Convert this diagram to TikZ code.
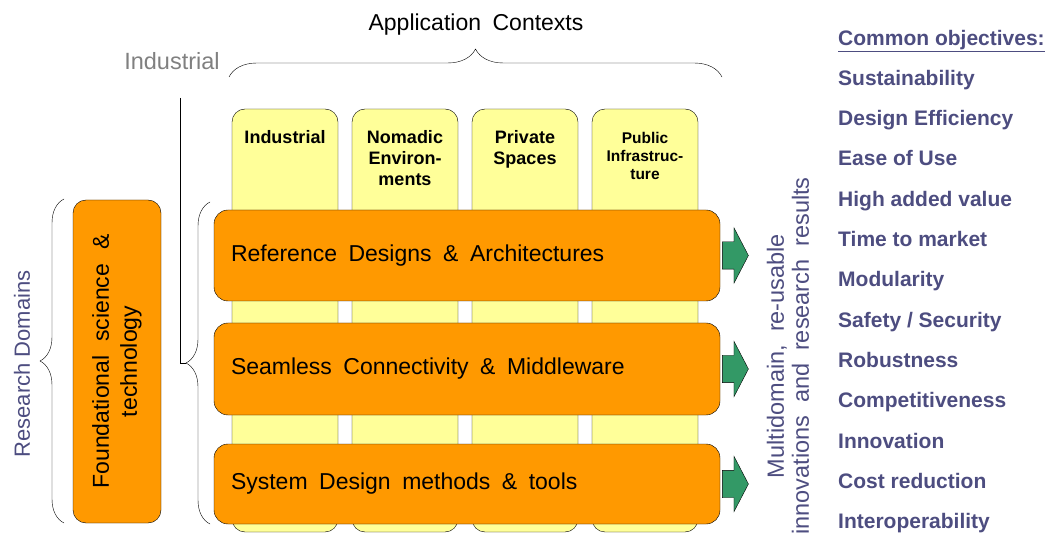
\documentclass[tikz,border=0pt]{standalone}
\usepackage{fontspec}
\setmainfont{Liberation Sans}
\usetikzlibrary{positioning,shapes.arrows,decorations.pathreplacing}
\definecolor{ctxyellow}{RGB}{255,255,153}
\definecolor{domorange}{RGB}{255,153,0}
\definecolor{resgreen}{RGB}{51,153,102}
\definecolor{slate}{RGB}{77,77,128}
\definecolor{greytxt}{RGB}{128,128,128}
\newcommand\widesp[1]{\spaceskip=#1em\relax}
\begin{document}
\begin{tikzpicture}[x=1pt,y=-1pt,
    ctxbox/.style={rectangle,rounded corners=13pt,draw,fill=ctxyellow,minimum width=106pt,minimum height=423pt,inner sep=0pt},
    ctxlabel/.style={align=center,inner sep=0pt,anchor=north,font=\fontsize{18}{21}\selectfont\bfseries},
    rdbox/.style={rectangle,rounded corners=14pt,draw,fill=domorange,text width=472pt,inner xsep=17pt,align=left,font=\fontsize{23}{27}\selectfont,execute at begin node={\widesp{0.5}}},
    resarrow/.style={single arrow,draw,fill=resgreen,minimum height=26pt,inner xsep=0pt,inner ysep=13.5pt,single arrow head extend=14pt,single arrow tip angle=125},
    objective/.style={anchor=base west,inner sep=0pt,text=slate,font=\fontsize{21}{24}\selectfont\bfseries},
    bracket/.style={decorate,decoration={brace,amplitude=#1}}]
    \useasboundingbox (0,0) rectangle (1052,534);

    % application contexts
    \node(ind)[ctxbox] at (285,320.5){};
    \node(nom)[ctxbox] at (405,320.5){};
    \node(priv)[ctxbox] at (525,320.5){};
    \node(pub)[ctxbox] at (645,320.5){};
    \node(indt)[ctxlabel,below=21pt of ind.north]{Industrial};
    \node(nomt)[ctxlabel,below=21pt of nom.north]{Nomadic\\Environ-\\ments};
    \node(privt)[ctxlabel,below=21pt of priv.north]{Private\\Spaces};
    \node(pubt)[ctxlabel,below=23pt of pub.north,font=\fontsize{15.5}{18}\selectfont\bfseries]{Public\\Infrastruc-\\ture};

    \node(actx)[font=\fontsize{23}{27}\selectfont,execute at begin node={\widesp{0.5}}] at (476,25){Application Contexts};
    \node(indg)[text=greytxt,font=\fontsize{23.5}{27}\selectfont] at (172,61){Industrial};
    \coordinate(bl) at (229,77);
    \coordinate(br) at (722,77);
    \draw[bracket=28pt] (bl) -- (br);

    % research domains
    \node(ref)[rdbox,minimum height=91pt] at (467,255.5){Reference Designs \& Architectures};
    \node(sea)[rdbox,minimum height=92pt] at (467,369){Seamless Connectivity \& Middleware};
    \node(sys)[rdbox,minimum height=80pt] at (467,484){System Design methods \& tools};
    \node(refout)[resarrow,right=2pt of ref]{};
    \node(seaout)[resarrow,right=2pt of sea]{};
    \node(sysout)[resarrow,right=2pt of sys]{};

    \node(fst)[rectangle,rounded corners=13pt,draw,fill=domorange,rotate=90,minimum width=323pt,minimum height=88pt,align=center,font=\fontsize{23}{28}\selectfont,execute at begin node={\widesp{0.6}}] at (117,361.5){Foundational science \&\\technology};
    \node(rd)[rotate=90,text=slate,font=\fontsize{22}{26}\selectfont] at (22,364){Research Domains};

    \coordinate(rdb) at (64,523);
    \coordinate(rdt) at (64,199);
    \draw[bracket=24pt] (rdb) -- (rdt);
    \coordinate(dbb) at (210,524);
    \coordinate(dbt) at (210,202);
    \draw[bracket=24pt] (dbb) -- (dbt);
    \coordinate(ltop) at (180,98);
    \coordinate(ltip) at (186,363);
    \draw (ltop) |- (ltip);

    % results and objectives
    \node(mdr)[rotate=90,align=center,text=slate,font=\fontsize{23.5}{25}\selectfont,execute at begin node={\widesp{0.55}}] at (788,356){Multidomain, re-usable\\innovations and research results};
    \node(obj)[objective] at (838,45.5){\underline{Common objectives:}};
    \foreach \txt [count=\i] in {Sustainability,Design Efficiency,Ease of Use,High added value,Time to market,Modularity,Safety / Security,Robustness,Competitiveness,Innovation,Cost reduction,Interoperability}
        \node(obj\i)[objective] at (838,{45.1+40.3*\i}){\txt};
\end{tikzpicture}
\end{document}
